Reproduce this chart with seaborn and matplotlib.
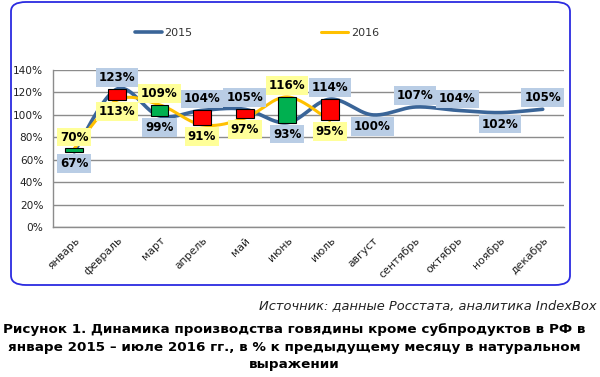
import numpy as np
import pandas as pd
import matplotlib
matplotlib.use('Agg')
import matplotlib.pyplot as plt
import seaborn as sns
from matplotlib.patches import FancyBboxPatch

# ---------------- data ----------------
months = ['январь', 'февраль', 'март', 'апрель', 'май', 'июнь', 'июль',
          'август', 'сентябрь', 'октябрь', 'ноябрь', 'декабрь']
values_2015 = [67, 123, 99, 104, 105, 93, 114, 100, 107, 104, 102, 105]
values_2016 = [70, 113, 109, 91, 97, 116, 95]
label_pos_2015 = ['below', 'above', 'below', 'above', 'above', 'below', 'above',
                  'below', 'above', 'above', 'below', 'above']
label_pos_2016 = ['above', 'below', 'above', 'below', 'below', 'above', 'below']
y_ticks = [0, 20, 40, 60, 80, 100, 120, 140]
source_text = 'Источник: данные Росстата, аналитика IndexBox'
title_text = ('Рисунок 1. Динамика производства говядины кроме субпродуктов в РФ в\n'
              'январе 2015 – июле 2016 гг., в % к предыдущему месяцу в натуральном\n'
              'выражении')

C2015 = '#3A6598'
C2016 = '#FFC000'
UP = '#00B050'
DOWN = '#FF0000'
GRID = '#8C8C8C'


def smooth(vals, n=40):
    """Excel-style smoothed line (Catmull-Rom Bezier) through the data points."""
    p = np.column_stack([np.arange(len(vals)), vals]).astype(float)
    out = []
    for i in range(len(p) - 1):
        p0 = p[max(i - 1, 0)]
        p1 = p[i]
        p2 = p[i + 1]
        p3 = p[min(i + 2, len(p) - 1)]
        c1 = p1 + (p2 - p0) / 6.0
        c2 = p2 - (p3 - p1) / 6.0
        t = np.linspace(0, 1, n, endpoint=(i == len(p) - 2))[:, None]
        seg = ((1 - t) ** 3) * p1 + 3 * ((1 - t) ** 2) * t * c1 + 3 * (1 - t) * t ** 2 * c2 + t ** 3 * p2
        out.append(seg)
    pts = np.vstack(out)
    return pd.DataFrame({'x': pts[:, 0], 'y': pts[:, 1]})


sns.set_theme(style='white')
plt.rcParams['font.family'] = ['DejaVu Sans']

fig = plt.figure(figsize=(6.0, 3.77), dpi=100)
fig.patch.set_facecolor('white')

# rounded frame
frame = FancyBboxPatch((11 / 600, 1 - 285 / 377), 559 / 600, 283 / 377,
                       boxstyle='round,pad=0,rounding_size=0.025',
                       transform=fig.transFigure, facecolor='none',
                       edgecolor='#2B2BE0', linewidth=1.3)
fig.add_artist(frame)

ax = fig.add_axes([53 / 600, 1 - 227 / 377, (564 - 53) / 600, (227 - 70) / 377])
ax.set_facecolor('none')

df15 = smooth(values_2015)
df16 = smooth(values_2016)
sns.lineplot(data=df15, x='x', y='y', sort=False, estimator=None, ax=ax,
             color=C2015, linewidth=2.6, label='2015', zorder=3)
sns.lineplot(data=df16, x='x', y='y', sort=False, estimator=None, ax=ax,
             color=C2016, linewidth=2.2, label='2016', zorder=3)

# up-down bars
for i, v16 in enumerate(values_2016):
    v15 = values_2015[i]
    lo, hi = min(v15, v16), max(v15, v16)
    ax.bar(i, hi - lo, bottom=lo, width=0.42,
           color=UP if v16 > v15 else DOWN, edgecolor='black', linewidth=0.8, zorder=4)

# data labels
def put_labels(vals, positions, face):
    for i, (v, pos) in enumerate(zip(vals, positions)):
        dy = 8.2 if pos == 'above' else -8.2
        ax.annotate(f'{v}%', xy=(i, v), xytext=(0, dy), textcoords='offset points',
                    ha='center', va='center', fontsize=8.6, fontweight='bold',
                    color='black', zorder=6,
                    bbox=dict(boxstyle='square,pad=0.24', facecolor=face, edgecolor='none'))

put_labels(values_2015, label_pos_2015, '#B9CDE5')
put_labels(values_2016, label_pos_2016, '#FFFF99')

# axes styling
ax.set_xlim(-0.5, len(months) - 0.5)
ax.set_ylim(0, 140)
ax.set_yticks(y_ticks)
ax.set_yticklabels([f'{t}%' for t in y_ticks], fontsize=7.6, color='#222222')
ax.set_xticks(np.arange(len(months)))
ax.set_xticklabels(months, rotation=45, ha='right', rotation_mode='anchor',
                   fontsize=7.8, color='#222222')
ax.set_xticks(np.arange(-0.5, len(months), 1), minor=True)
ax.tick_params(axis='x', which='major', length=0, pad=6)
ax.tick_params(axis='x', which='minor', length=4, color=GRID, direction='out', width=1)
ax.tick_params(axis='y', length=4, color=GRID, direction='out', width=1, pad=3)
ax.grid(axis='y', color=GRID, linewidth=1)
ax.set_axisbelow(True)
for s in ['top', 'right']:
    ax.spines[s].set_visible(False)
for s in ['left', 'bottom']:
    ax.spines[s].set_color(GRID)
    ax.spines[s].set_linewidth(1)
ax.set_xlabel('')
ax.set_ylabel('')

leg = ax.legend(loc='center left', bbox_to_anchor=(135 / 600, 1 - 33 / 377),
                bbox_transform=fig.transFigure, ncol=2, frameon=False, fontsize=8,
                handlelength=2.4, handletextpad=0.25, columnspacing=11.6,
                borderpad=0, borderaxespad=0)
for t in leg.get_texts():
    t.set_color('#333333')

fig.text(597 / 600, 1 - 306 / 377, source_text, ha='right', va='center',
         fontsize=9.4, style='italic', color='#222222')
fig.text(294 / 600, 1 - 347 / 377, title_text, ha='center', va='center',
         fontsize=9.7, fontweight='bold', color='black', linespacing=1.45,
         multialignment='center')

fig.savefig('out.png', dpi=100, facecolor='white')
